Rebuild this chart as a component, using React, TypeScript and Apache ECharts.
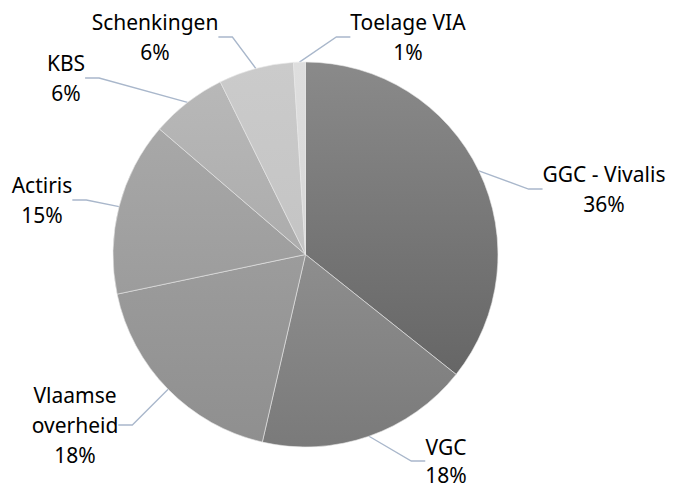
import React, { useEffect, useRef } from "react";
import * as echarts from "echarts";

const categories = [
  "GGC - Vivalis",
  "VGC",
  "Vlaamse overheid",
  "Actiris",
  "KBS",
  "Schenkingen",
  "Toelage VIA",
];
const values = [35.7, 17.9, 18.1, 14.6, 6.4, 6.3, 1.0];
const topColors = ["#8a8a8a", "#8e8e8e", "#9c9c9c", "#a8a8a8", "#b8b8b8", "#cbcbcb", "#dedede"];
const bottomColors = ["#666666", "#7a7a7a", "#8f8f8f", "#9c9c9c", "#acacac", "#c4c4c4", "#d8d8d8"];

// label block centres (layout only)
const labelCenters: [number, number][] = [
  [604, 189],
  [446, 461],
  [75, 425],
  [42, 200],
  [66, 78],
  [155, 37],
  [408, 37],
];
const labelLineHeights = [30, 28, 30, 30, 30, 30, 30];

export default function App() {
  const ref = useRef<HTMLDivElement>(null);
  useEffect(() => {
    document.body.style.margin = "0";
    const chart = echarts.init(ref.current!, null, { renderer: "svg" });
    chart.setOption({
      animation: false,
      backgroundColor: "#ffffff",
      series: [
        {
          type: "pie",
          center: [305.5, 254.5],
          radius: 192.5,
          startAngle: 90,
          clockwise: true,
          avoidLabelOverlap: false,
          itemStyle: { borderColor: "#e8e8e8", borderWidth: 0.6 },
          label: {
            show: true,
            position: "outside",
            formatter: (p: any) =>
              (p.name === "Vlaamse overheid" ? "Vlaamse\noverheid" : p.name) + "\n" + Math.round(p.percent) + "%",
            fontFamily: "Noto Sans",
            fontSize: 21,
            lineHeight: 30,
            color: "#000000",
            align: "center",
          },
          labelLine: {
            show: true,
            length: 18,
            length2: 14,
            lineStyle: { color: "#a9b7cb", width: 1.3 },
          },
          labelLayout: (params: any) => {
            const c = labelCenters[params.dataIndex];
            return {
              x: c[0],
              y: c[1],
              align: "center",
              verticalAlign: "middle",
              hideOverlap: false,
            };
          },
          data: categories.map((name, i) => ({
            name,
            value: values[i],
            label: { lineHeight: labelLineHeights[i] },
            itemStyle: {
              color: new echarts.graphic.LinearGradient(0, 0, 0, 1, [
                { offset: 0, color: topColors[i] },
                { offset: 1, color: bottomColors[i] },
              ]),
            },
          })),
        },
      ],
    });
    return () => chart.dispose();
  }, []);
  return <div ref={ref} style={{ width: 674, height: 490 }} />;
}
